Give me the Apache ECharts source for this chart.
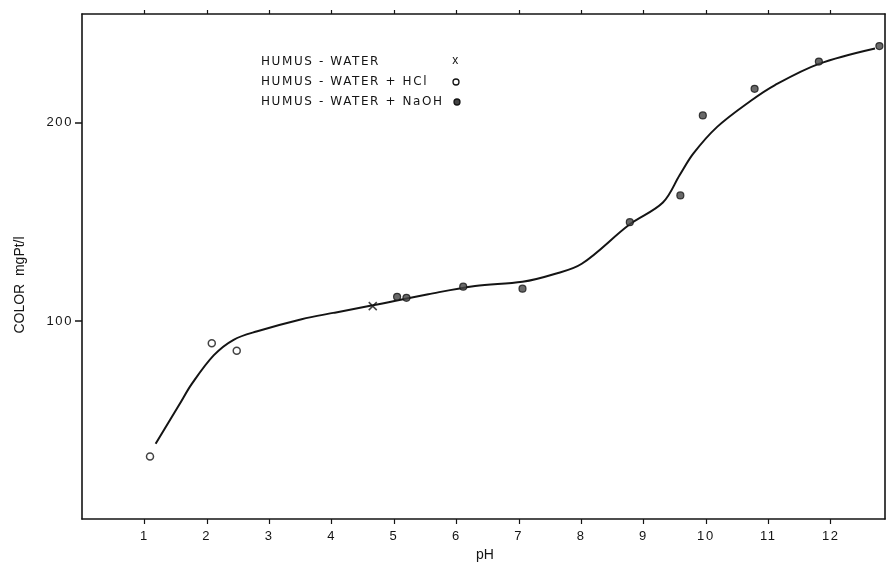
<!DOCTYPE html>
<html>
<head>
<meta charset="utf-8">
<script src="https://cdn.jsdelivr.net/npm/echarts@6/dist/echarts.min.js"></script>
<style>
html,body{margin:0;padding:0;background:#fff;}
#chart{width:887px;height:564px;}
</style>
</head>
<body>
<div id="chart"></div>
<script>
// ---- data ----
const xTicks = [1,2,3,4,5,6,7,8,9,10,11,12];
const yTicks = [100,200];
const hclPH = [1.09, 2.08, 2.48];
const hclColor = [31.5, 88.7, 84.9];
const waterPH = [4.66];
const waterColor = [107.5];
const naohPH = [5.05, 5.2, 6.11, 7.06, 8.78, 9.59, 9.95, 10.78, 11.81, 12.78];
const naohColor = [112.2, 111.7, 117.3, 116.3, 149.9, 163.4, 203.8, 217.2, 231, 238.8];
const curvePH = [1.18, 1.57, 1.76, 2.11, 2.43, 2.81, 3.52, 4.05, 4.66, 5.55, 6.3, 7.06, 7.56, 8.01, 8.77, 9.31, 9.58, 9.8, 10.18, 10.72, 11.1, 11.8, 12.71];
const curveColor = [38, 58.3, 68.2, 82.6, 90.5, 94.8, 100.9, 104.2, 107.9, 113.5, 117.7, 119.8, 123.6, 128.9, 148.6, 159.8, 173.7, 184.6, 198, 211.2, 219, 229.7, 237.6];
const legendLabels = ['HUMUS - WATER', 'HUMUS - WATER + HCl', 'HUMUS - WATER + NaOH'];
const xName = 'pH';
const yName = 'COLOR  mgPt/l';

// letter-spaced lettering for the legend (as on the original typewriter-style figure)
(function () {
  const proto = CanvasRenderingContext2D.prototype;
  const orig = proto.fillText;
  if (!('letterSpacing' in proto)) return;
  proto.fillText = function () {
    if (this.font && this.font.indexOf('DejaVu') >= 0) {
      const prev = this.letterSpacing;
      this.letterSpacing = '1.6px';
      const r = orig.apply(this, arguments);
      this.letterSpacing = prev;
      return r;
    }
    return orig.apply(this, arguments);
  };
})();

const ink = '#141414';
const font = '"Liberation Sans", Arial, sans-serif';
const spaced = '"DejaVu Sans", sans-serif';
const zip = (a, b) => a.map((v, i) => [v, b[i]]);

const chart = echarts.init(document.getElementById('chart'), null, {renderer: 'canvas'});

const baseX = {
  type: 'value', min: 0, max: 12.87, interval: 1,
  splitLine: {show: false},
  axisLine: {show: true, onZero: false, lineStyle: {color: ink, width: 1.6}},
};
const baseY = {
  type: 'value', min: 0, max: 255, interval: 100,
  splitLine: {show: false},
  axisLine: {show: true, onZero: false, lineStyle: {color: ink, width: 1.6}},
};

chart.setOption({
  backgroundColor: '#fff',
  animation: false,
  grid: {left: 82, right: 2, top: 14, bottom: 45},
  xAxis: [
    Object.assign({}, baseX, {
      position: 'bottom',
      axisTick: {show: true, length: 5, customValues: xTicks, lineStyle: {color: ink, width: 1.2}},
      axisLabel: {show: true, customValues: xTicks, margin: 11, color: ink, fontSize: 13, fontFamily: font},
    }),
    Object.assign({}, baseX, {
      position: 'top',
      axisTick: {show: true, length: 4, customValues: xTicks, lineStyle: {color: ink, width: 1.2}},
      axisLabel: {show: false},
    }),
  ],
  yAxis: [
    Object.assign({}, baseY, {
      position: 'left',
      axisTick: {show: true, length: 7, customValues: yTicks, lineStyle: {color: ink, width: 1.5}},
      axisLabel: {show: true, customValues: yTicks, margin: 9, color: ink, fontSize: 13, fontFamily: font},
    }),
    Object.assign({}, baseY, {
      position: 'right',
      axisTick: {show: false},
      axisLabel: {show: false},
    }),
  ],
  graphic: [
    {type: 'text', x: 485, y: 555, style: {text: xName, fill: ink, font: '14px ' + font, align: 'center', verticalAlign: 'middle'}},
    {type: 'text', x: 20, y: 285, rotation: Math.PI / 2,
      style: {text: yName, fill: ink, font: '14px ' + font, align: 'center', verticalAlign: 'middle'}},
    {type: 'text', x: 261, y: 62, style: {text: legendLabels[0], fill: ink, font: '12px ' + spaced, verticalAlign: 'middle'}},
    {type: 'text', x: 261, y: 82, style: {text: legendLabels[1], fill: ink, font: '12px ' + spaced, verticalAlign: 'middle'}},
    {type: 'text', x: 261, y: 102, style: {text: legendLabels[2], fill: ink, font: '12px ' + spaced, verticalAlign: 'middle'}},
    {type: 'text', x: 456, y: 61, style: {text: 'x', fill: ink, font: '12px ' + font, align: 'center', verticalAlign: 'middle'}},
    {type: 'circle', shape: {cx: 456, cy: 82, r: 3}, style: {fill: '#fff', stroke: ink, lineWidth: 1.3}},
    {type: 'circle', shape: {cx: 457, cy: 102, r: 3}, style: {fill: '#444', stroke: ink, lineWidth: 1.3}},
  ],
  series: [
    {
      type: 'line', name: 'curve', data: zip(curvePH, curveColor),
      smooth: 0.35, showSymbol: false, symbol: 'none',
      lineStyle: {color: ink, width: 2}, z: 2,
    },
    {
      type: 'scatter', name: legendLabels[0], data: zip(waterPH, waterColor),
      symbol: 'path://M0,0L10,10M10,0L0,10', symbolSize: 8,
      itemStyle: {color: 'none', borderColor: ink, borderWidth: 1.5}, z: 3,
    },
    {
      type: 'scatter', name: legendLabels[1], data: zip(hclPH, hclColor),
      symbol: 'circle', symbolSize: 7,
      itemStyle: {color: '#fff', borderColor: ink, borderWidth: 1.5}, z: 3,
    },
    {
      type: 'scatter', name: legendLabels[2], data: zip(naohPH, naohColor),
      symbol: 'circle', symbolSize: 7,
      itemStyle: {color: '#444', borderColor: ink, borderWidth: 1.2}, z: 3,
    },
  ],
});
</script>
</body>
</html>
